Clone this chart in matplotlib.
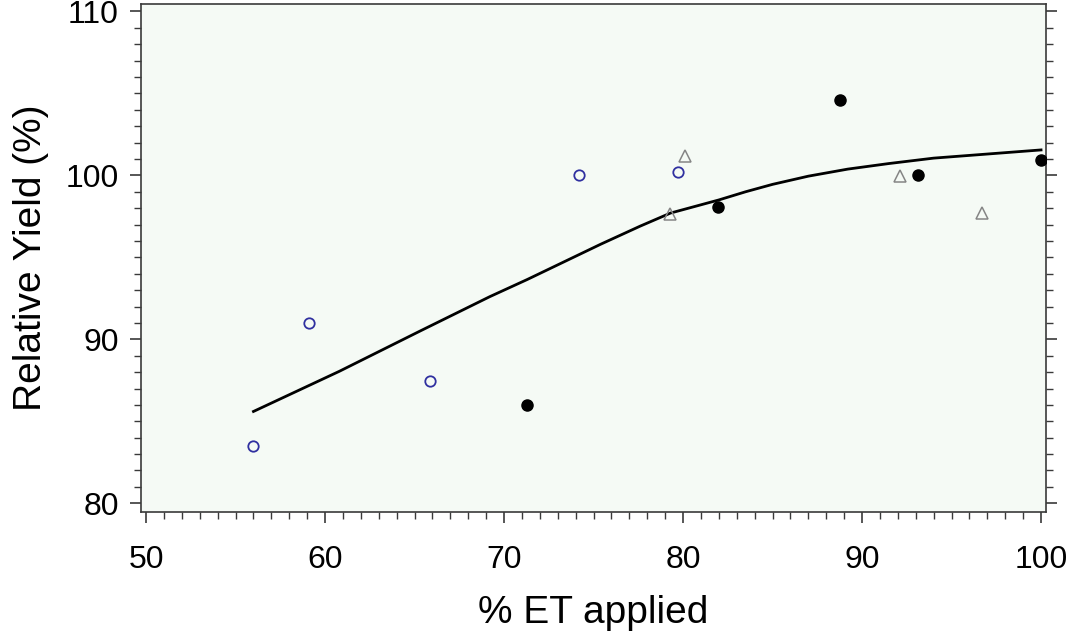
import matplotlib

matplotlib.use("Agg")
import matplotlib.pyplot as plt  # noqa: E402
from matplotlib.ticker import MultipleLocator  # noqa: E402

plt.rcParams["font.family"] = ["Liberation Sans", "DejaVu Sans"]

# open blue circles
blue_x = [56.0, 59.1, 65.85, 74.2, 79.7]
blue_y = [83.5, 91.0, 87.45, 100.0, 100.2]

# filled black circles
black_x = [71.3, 81.95, 88.75, 93.1, 100.0]
black_y = [86.0, 98.1, 104.6, 100.0, 100.95]

# open grey triangles
tri_x = [79.25, 80.1, 92.1, 96.7]
tri_y = [97.65, 101.15, 99.95, 97.7]

# fitted response curve
fit_x = [56.0, 60.8, 65.3, 69.2, 71.3, 75.4, 77.6, 79.3, 82.0, 83.5,
         85.0, 87.0, 89.2, 91.5, 94.0, 97.0, 100.0]
fit_y = [85.6, 88.05, 90.5, 92.6, 93.65, 95.8, 96.9, 97.7, 98.5, 99.0,
         99.45, 99.95, 100.38, 100.72, 101.05, 101.3, 101.55]

fig = plt.figure(figsize=(10.71, 6.35), dpi=100)
ax = fig.add_axes([0.1317, 0.194, 0.845, 0.7997])
ax.set_facecolor("#f5faf5")

ax.plot(fit_x, fit_y, "-", color="black", lw=2, zorder=2)
ax.plot(blue_x, blue_y, "o", mfc="none", mec="#3030a0", mew=1.3, ms=7.5,
        ls="none", zorder=3)
ax.plot(tri_x, tri_y, "^", mfc="none", mec="#858585", mew=1.1, ms=8.5,
        ls="none", zorder=3)
ax.plot(black_x, black_y, "o", color="black", ms=8, ls="none", zorder=4)

ax.set_xlim(49.72, 100.28)
ax.set_ylim(79.48, 110.45)
ax.xaxis.set_major_locator(MultipleLocator(10))
ax.xaxis.set_minor_locator(MultipleLocator(1))
ax.yaxis.set_major_locator(MultipleLocator(10))
ax.yaxis.set_minor_locator(MultipleLocator(1))

for s in ax.spines.values():
    s.set_color("#3a3a3a")
    s.set_linewidth(1.2)

ax.tick_params(which="both", direction="out", colors="#3a3a3a",
               right=True, labelright=False, top=False, labelsize=23,
               labelcolor="black")
ax.tick_params(which="major", length=8, width=1.2, pad=8)
ax.tick_params(which="minor", length=5, width=1.0)
ax.tick_params(axis="x", which="major", pad=16)

ax.set_xlabel("% ET applied", fontsize=28, labelpad=14)
ax.set_ylabel("Relative Yield (%)", fontsize=28, labelpad=12)

fig.savefig("out.png", dpi=100, facecolor="white")
